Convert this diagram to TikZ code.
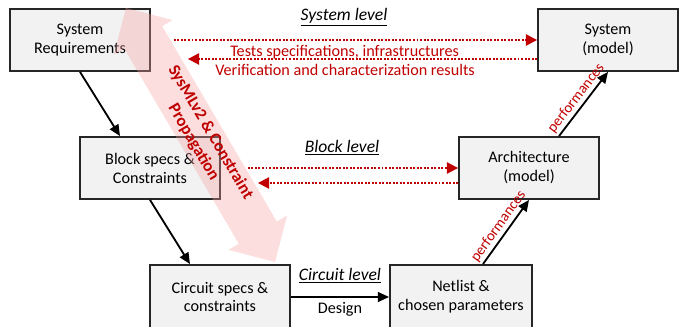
\documentclass[tikz,border=0pt]{standalone}
\usepackage{fontspec}
\setmainfont{Carlito}
\usetikzlibrary{arrows.meta, calc}
\definecolor{sysred}{RGB}{192,0,0}
\definecolor{boxgray}{RGB}{242,242,242}
\definecolor{pinkfill}{RGB}{245,160,160}
\tikzstyle{block} = [rectangle, minimum width=3.5cm, minimum height=1.55cm, align=center, draw=black!85, line width=1.3pt, fill=boxgray, font=\fontsize{11.5}{13.5}\selectfont]
\tikzstyle{arrow} = [line width=1.3pt, -{Triangle[length=8pt, width=7pt]}]
\tikzstyle{flow} = [line width=1.4pt, sysred, dash pattern=on 1.4pt off 1.1pt, -{Triangle[length=8pt, width=8pt]}]
\tikzstyle{level} = [font=\fontsize{12.5}{14}\selectfont\itshape]
\tikzstyle{flowlabel} = [text=sysred, font=\fontsize{11.5}{13}\selectfont]
\tikzstyle{perf} = [text=sysred, font=\fontsize{10.5}{12}\selectfont, inner sep=1.5pt]
\begin{document}
\begin{tikzpicture}[x=0.025cm, y=-0.025cm, font=\fontsize{11.5}{13.5}\selectfont]
\useasboundingbox (0,0) rectangle (683,327);

\node at (80, 40) (sysreq) [block] {System\\Requirements};
\node at (608, 40) (sysmodel) [block] {System\\(model)};
\node at (150, 168) (blockspec) [block] {Block specs \&\\Constraints};
\node at (529, 168) (arch) [block] {Architecture\\(model)};
\node at (220, 297) (circuit) [block, minimum height=1.6cm] {Circuit specs \&\\constraints};
\node at (461, 297) (netlist) [block, minimum height=1.6cm, minimum width=3.55cm] {Netlist \&\\chosen parameters};

\node at (344, 17) (syslevel) [level] {\underline{System level}};
\node at (342, 148) (blocklevel) [level] {\underline{Block level}};
\node at (340, 276) (circlevel) [level] {\underline{Circuit level}};

% flows between levels
\draw [flow] ($(sysreq.east)+(23,0)$) -- (sysmodel.west) node [pos=0.47, below, flowlabel] {Tests specifications, infrastructures};
\draw [flow] ($(sysmodel.west)+(0,19)$) -- ($(sysreq.east)+(37,19)$) node [pos=0.55, below, flowlabel] {Verification and characterization results};
\draw [flow] ($(blockspec.east)+(27,0)$) -- (arch.west);
\draw [flow] ($(arch.west)+(0,15)$) -- ($(blockspec.east)+(37,15)$);

\draw [arrow] (sysreq.south) -- ($(blockspec.north)+(-30,0)$);
\draw [arrow] (blockspec.south) -- ($(circuit.north)+(-30,0)$);
\draw [arrow] (circuit.east) -- (netlist.west) node [midway, below] {Design};
\draw [arrow] ($(netlist.north)+(22,0)$) -- (arch.south) node [midway, above, sloped, perf] {performances};
\draw [arrow] ($(arch.north)+(30,0)$) -- (sysmodel.south) node [midway, above, sloped, perf] {performances};

% big propagation arrow
\begin{scope}[shift={(126,8)}, rotate=-59.6]
\fill [pinkfill, fill opacity=0.35] (0,0) -- (34,34) -- (34,22) -- (260.5,22) -- (260.5,34) -- (294.5,0) -- (260.5,-34) -- (260.5,-22) -- (34,-22) -- (34,-34) -- cycle;
\node at (150,0) (sysml) [rotate=-59.6, align=center, text=sysred, font=\fontsize{12}{14}\selectfont\bfseries] {SysMLv2 \& Constraint\\Propagation};
\end{scope}

\end{tikzpicture}
\end{document}
